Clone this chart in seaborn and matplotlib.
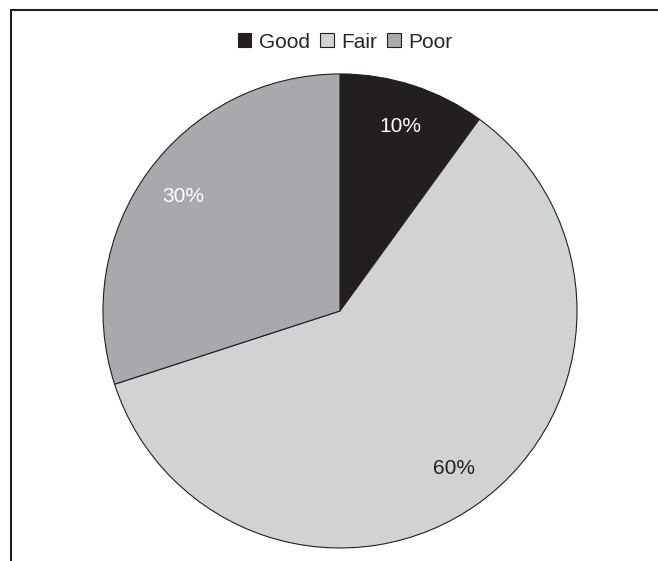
import matplotlib
matplotlib.use("Agg")
import matplotlib.pyplot as plt
from matplotlib.lines import Line2D
import seaborn as sns

# Dữ liệu
labels = ["Good", "Fair", "Poor"]
shares = [10, 60, 30]
colors = ["#231f20", "#d1d2d4", "#a7a9ac"]
label_colors = ["white", "#231f20", "white"]

sns.set_style("white")
plt.rcParams["font.family"] = ["Liberation Sans", "DejaVu Sans"]

fig = plt.figure(figsize=(6.58, 5.61), dpi=100)
ax = fig.add_axes([0.1565, 0.0232, 0.7204, 0.845])

wedges, texts, autotexts = ax.pie(
    shares,
    colors=colors,
    startangle=90,
    counterclock=False,
    autopct="%d%%",
    pctdistance=0.82,
    radius=1,
    wedgeprops={"edgecolor": "#231f20", "linewidth": 0.8},
    textprops={"fontsize": 15},
)
for t, c in zip(autotexts, label_colors):
    t.set_color(c)

ax.set_xlim(-1, 1)
ax.set_ylim(-1, 1)
ax.set_aspect("auto")
ax.axis("off")

fig.legend(
    wedges, labels,
    loc="center", bbox_to_anchor=(345 / 658, 1 - 42 / 561),
    ncol=3, frameon=False, fontsize=15,
    handlelength=0.65, handleheight=0.65, handletextpad=0.35,
    columnspacing=0.5,
)

# Khung viền trên và trái
x0, y0 = 11 / 658, 1 - 10 / 561
fig.add_artist(Line2D([x0, 1], [y0, y0], color="#231f20", lw=1.5))
fig.add_artist(Line2D([x0, x0], [0, y0], color="#231f20", lw=1.5))

fig.savefig("out.png", dpi=100)
